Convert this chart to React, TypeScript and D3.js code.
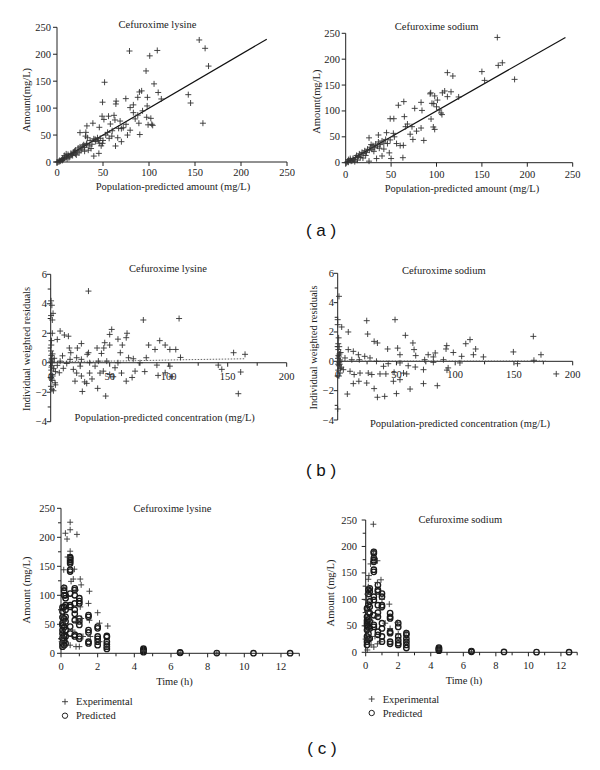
import React from 'react';
import * as d3 from 'd3';

type Pt = [number, number];

// (a) observed vs population-predicted amount (mg/L)
const lysineAmount: Pt[] = [
  [154.6, 226.5], [161, 211], [164.7, 178], [78.8, 206], [109, 207], [100.8, 197], [96.8, 169], [105.5, 145],
  [51.7, 148], [142.7, 125], [145.2, 109.5], [158.6, 72], [92, 132], [89.6, 130], [110, 129], [74.8, 117.6],
  [87.8, 120], [98.3, 120], [113.4, 117], [49.5, 111], [64.3, 113], [64, 107.7], [79.5, 101], [83, 106],
  [98, 104], [49, 85], [56, 85], [62, 86.6], [51, 79], [97.5, 83], [102, 81], [83, 91.6], [89, 72], [99, 69],
  [104, 68], [103, 70], [90, 51], [31.4, 55], [25, 54.5], [39, 72], [32.5, 67], [46, 64.4], [58, 70.5],
  [67, 62.5], [56.7, 44], [63.6, 29.7], [59.6, 48], [70, 37.7], [76.6, 50], [44, 45], [40, 11], [45.5, 16],
  [32.5, 34.6], [41.5, 42], [49.5, 34.6], [63, 78], [68.6, 76], [72, 63.7], [79.5, 59], [87.8, 87],
  [55, 55], [60, 58], [66, 45], [70, 62], [75, 70], [85, 80], [93, 95], [36, 40], [38, 33], [53, 50], [47, 44],
  [0, 0], [1, 0], [2, 1], [3, 3], [3, 1], [4, 2], [5, 4], [6, 6], [6, 3], [7, 5], [8, 7], [8, 12], [10, 9],
  [10, 15], [11, 6], [12, 14], [13, 8], [14, 10], [15, 16], [16, 14], [17, 12], [18, 18], [19, 20], [20, 15],
  [20, 22], [21, 13], [22, 19], [23, 26], [24, 17], [25, 28], [26, 22], [27, 24], [28, 30], [29, 32], [30, 27],
  [30, 20], [32, 33], [34, 22], [33, 45], [31, 48], [35, 30], [37, 25], [40, 43], [42, 38], [45, 40], [46, 35],
  [48, 30], [50, 40],
];
const sodiumAmount: Pt[] = [
  [167, 242], [168, 188], [172.5, 193], [186, 161], [150, 176], [153, 159], [112, 174], [118, 167.5],
  [116, 137], [109, 138.5], [106.5, 135], [112, 127.6], [124.4, 127], [93.6, 135], [93, 133], [98, 129],
  [101, 121], [97, 114], [95, 114.7], [100, 108], [103, 102], [105, 96], [106, 93], [94, 84.4], [96.5, 69],
  [98, 64.4], [83, 116.6], [84, 101], [76, 105], [64, 118], [58, 111], [49, 85], [53, 85], [64.6, 89],
  [68, 74.7], [66, 69.6], [73, 69.6], [83, 67], [74, 45], [86, 43], [78, 61], [71, 55], [63, 9.7], [48, 19],
  [50, 8], [40, 13], [34, 8], [25.7, 3], [36, 53.5], [25.7, 48], [45, 58], [52.5, 56.7], [53.6, 50], [56, 37],
  [46, 37], [60, 33], [63.5, 33.5], [42, 26.4], [49, 44],
  [1, 0], [2, 2], [3, 1], [5, 5], [6, 3], [8, 8], [9, 6], [11, 10], [12, 14], [14, 12], [15, 17], [17, 15],
  [18, 20], [20, 18], [21, 23], [23, 20], [24, 26], [26, 24], [27, 30], [29, 26], [30, 33], [32, 29], [33, 36],
  [35, 32], [36, 40], [38, 35], [40, 42], [42, 38], [44, 45], [10, 2], [5, 8], [13, 5], [19, 9], [22, 14],
  [28, 35], [31, 22], [37, 28], [3, 6], [7, 4], [16, 10],
];
const lysineFit: Pt[] = [[0, 0], [228, 228]];
const sodiumFit: Pt[] = [[0, 0], [242, 242]];

// (b) individual weighted residuals vs population-predicted concentration
const lysineResid: Pt[] = [
  [32, 4.86], [0.3, 4.2], [1, 3.9], [2, 3.35], [0.3, 3.2], [1.4, 2.9], [78.5, 2.9], [108.8, 3.0], [1.4, 2.0],
  [8, 2.15], [11.6, 1.88], [15, 1.8], [5.6, 1.58], [51.7, 2.26], [50, 1.92], [64.7, 2.0], [64, 1.7], [57, 1.6],
  [45.8, 1.36], [60.7, 1.2], [39.3, 1.0], [45, 1.0], [50, 1.2], [83, 1.2], [92.4, 1.5], [97, 1.2], [88.4, 0.9],
  [101, 0.9], [106, 0.9], [110, 0.36], [155, 0.68], [164.7, 0.57], [161, -0.63], [159, -2.1], [142, -0.16],
  [145, -0.45], [46.6, -2.26], [39.8, -1.74], [26.8, -1.95], [30.5, -1.4], [28.8, -1.3], [17, 0.68], [15.8, 1.0],
  [10, 0.47], [10.7, -0.38], [7.3, -0.68], [3.7, -1.36], [2.3, -1.9], [4, -1.5], [1.7, -0.9], [0.8, -1.1],
  [19.2, -0.45], [22, -0.7], [25, -0.23], [33, -0.7], [35, -1.1], [26, -0.9], [20.6, -1.25], [37.6, -0.23],
  [41.8, -0.7], [44.6, -0.57], [50, -0.8], [53, -0.95], [60, -0.7], [64, -1.25], [69, -1.0], [71.5, -0.57],
  [79.7, -0.6], [91, -0.86], [97, -0.68], [102.5, -0.95], [101, -0.23], [90, -0.16], [75.7, 0], [70, 0.27],
  [66, 0.34], [57, 0], [54.5, -0.34], [47.5, 0.11], [40.4, 0.11], [33, 0], [26, 0.23], [22, 0.34], [16.4, 0.23],
  [13.6, -0.05], [8, 0.11], [5.6, -0.18], [22.6, 1.0], [26, 1.3], [32, 0.68], [31, 0.57], [43, 0.63], [59, 0.68],
  [81, 0.34], [0.5, 0.5], [0.5, -0.5], [1, 0.2], [1, -0.2], [0.3, 0.8], [1, -0.8], [0.5, 1.2], [1.2, -1.2],
  [0.2, -1.6], [0.8, 0.3], [0.6, -0.3], [1.5, 0.6], [0.4, -1], [1.3, 0], [0.7, 1.5], [1.1, -1.8], [0.5, 0.1],
  [2.5, -0.4], [3, 0.3], [4, -0.6],
];
const sodiumResid: Pt[] = [
  [1.1, 4.43], [0, 2.84], [0, 2.5], [3.4, 2.34], [9, 2.0], [24.7, 2.77], [48.8, 2.84], [57.6, 1.77], [25.5, 1.86],
  [166.5, 1.7], [112.6, 1.48], [109, 1.2], [92.8, 1.07], [92.2, 0.84], [117.4, 0.84], [98.4, 0.6], [149.5, 0.64],
  [173, 0.45], [167, 0.07], [153, -0.16], [186, -0.86], [124, 0.3], [115.5, 0.45], [105.5, 0.34], [104, -0.11],
  [94, -0.45], [93, -0.6], [84.8, -1.66], [73, -1.52], [73, -0.57], [66.4, 0.39], [65, 0.8], [64, 1.25], [77, 0.45],
  [83, 0.57], [81.4, 0.3], [61.6, -1.89], [50, -2.2], [40, -2.39], [33.8, -2.45], [8.2, -2.23], [0, -3.25],
  [13.3, -1.52], [18, -1.36], [31, -1.86], [24.7, -1.48], [19, -0.8], [26, -0.8], [29, -0.9], [36, -0.86],
  [41, -0.86], [48, -0.75], [53, -1.25], [56, -0.8], [58.7, -0.86], [47.4, -1.36], [14, -0.9], [10.5, -0.68],
  [4.8, -0.57], [39, -0.34], [43, -0.16], [53, -0.11], [60, -0.3], [66, -0.39], [33, 0], [27.5, 0.23], [23, 0.34],
  [17.6, 0.45], [13.3, 0.68], [9, 0.8], [33.8, 1.25], [31, 1.36], [42.5, 0.84], [51, 0.9], [53, 0.45], [18.4, 0.11],
  [12, 0.11], [6.2, 0.23], [81.4, -0.07], [74, 0.11], [90, 0.11], [0.5, 0.8], [1, 0.3], [1, -0.3], [0.5, -0.6],
  [2, 0], [1.5, 0.5], [0.5, 1.2], [2, -0.8], [1, -1], [0.3, 0.2], [1.2, -0.1], [2.5, 0.6], [0.8, 1.6], [3, -0.4],
  [1.8, 0.1], [0.4, -0.2], [1.3, 1.0], [2.2, -0.5], [0.6, 0.4], [1.7, -0.2],
];
const lysineTrend: Pt[] = [[0, 0.08], [60, 0.12], [110, 0.2], [165, 0.27]];
const sodiumTrend: Pt[] = [[0, 0.02], [177, 0.02]];

// (c) amount vs time (h): experimental (+) and predicted (o)
const lysineExp: Pt[] = [
  [0.24, 207], [0.5, 226], [0.5, 213], [0.87, 205], [0.33, 197], [0.5, 176], [0.36, 166], [0.15, 144], [0.73, 145],
  [1.05, 128], [0.67, 128], [0.15, 114], [1.1, 118], [1.55, 107], [1.5, 86], [2.0, 70], [2.55, 47], [0.55, 124],
  [0.82, 55], [1.1, 60], [1.55, 57], [2.1, 52], [0.18, 11.5], [0.5, 14], [0.82, 11.5], [1.0, 11.5], [0.04, 20],
  [0.1, 29], [1.05, 80], [0.82, 109], [0.06, 63], [0.18, 55], [0.63, 40], [1.2, 29], [1.6, 29], [2.1, 20],
  [2.5, 11], [4.5, 5], [4.5, 3], [6.5, 1], [8.5, 0.5],
];
const lysinePred: Pt[] = [
  [0.08, 79], [0.08, 72], [0.08, 52], [0.08, 40], [0.08, 34], [0.08, 26], [0.08, 17], [0.08, 11.5], [0.08, 48], [0.08, 62],
  [0.17, 80], [0.17, 60], [0.17, 45], [0.17, 30], [0.17, 22], [0.17, 14], [0.17, 100], [0.17, 108], [0.17, 113],
  [0.25, 100], [0.25, 95], [0.25, 83], [0.25, 75], [0.25, 63], [0.25, 55], [0.25, 40], [0.25, 29], [0.25, 17],
  [0.5, 166], [0.5, 164], [0.5, 161], [0.5, 158], [0.5, 155], [0.5, 144], [0.5, 141], [0.5, 103], [0.5, 83],
  [0.5, 46], [0.5, 34], [0.5, 80],
  [0.75, 112], [0.75, 109], [0.75, 86], [0.75, 75], [0.75, 57], [0.75, 32], [0.75, 29], [0.75, 100], [0.75, 68],
  [1.0, 95], [1.0, 90], [1.0, 86], [1.0, 60], [1.0, 55], [1.0, 49], [1.0, 29], [1.0, 25],
  [1.5, 66], [1.5, 63], [1.5, 40], [1.5, 36], [1.5, 20], [1.5, 17],
  [2.0, 46], [2.0, 43], [2.0, 29], [2.0, 25], [2.0, 20], [2.0, 14],
  [2.5, 30], [2.5, 28], [2.5, 20], [2.5, 15.5], [2.5, 11.5], [2.5, 7.5],
  [4.5, 8], [4.5, 6], [4.5, 4], [4.5, 2], [6.5, 1.5], [6.5, 0.8], [8.5, 0.5], [10.5, 0.2], [12.5, 0.1],
];
const sodiumExp: Pt[] = [
  [0.47, 242], [0.47, 190], [0.72, 173], [0.3, 167], [0.16, 138], [0.16, 124], [0.94, 137], [0.72, 132],
  [1.45, 91], [1.95, 56], [2.48, 37], [0.05, 99], [0.08, 77], [0.33, 14], [0.72, 16], [0.92, 20], [0.1, 4.4],
  [1.2, 55], [0.68, 68], [0.57, 30], [0.2, 145], [0.1, 110], [0.3, 60], [0.1, 40], [0.15, 25], [1.0, 100],
  [0.9, 80], [1.5, 45], [2.0, 35], [2.5, 20], [0.5, 10], [4.5, 6], [6.5, 2],
];
const sodiumPred: Pt[] = [
  [0.08, 83], [0.08, 67], [0.08, 55], [0.08, 42], [0.08, 30], [0.08, 20], [0.08, 14], [0.08, 60], [0.08, 50],
  [0.17, 90], [0.17, 75], [0.17, 62], [0.17, 48], [0.17, 35], [0.17, 25], [0.17, 110], [0.17, 118],
  [0.25, 121], [0.25, 115], [0.25, 96], [0.25, 86], [0.25, 74], [0.25, 58], [0.25, 45], [0.25, 26],
  [0.5, 190], [0.5, 187], [0.5, 178], [0.5, 174], [0.5, 171], [0.5, 156], [0.5, 152], [0.5, 105], [0.5, 99],
  [0.5, 52], [0.5, 48], [0.5, 70],
  [0.75, 127], [0.75, 118], [0.75, 115], [0.75, 89], [0.75, 67], [0.75, 39], [0.75, 33], [0.75, 75],
  [1.0, 111], [1.0, 105], [1.0, 89], [1.0, 86], [1.0, 45], [1.0, 30], [1.0, 20], [1.0, 55],
  [1.5, 74], [1.5, 67], [1.5, 64], [1.5, 39], [1.5, 36], [1.5, 20], [1.5, 16],
  [2.0, 55], [2.0, 48], [2.0, 30], [2.0, 23], [2.0, 17], [2.0, 14],
  [2.5, 36], [2.5, 33], [2.5, 26], [2.5, 20], [2.5, 14], [2.5, 8],
  [4.5, 9], [4.5, 7], [4.5, 5], [4.5, 3], [6.5, 2], [6.5, 1], [8.5, 0.6], [10.5, 0.3], [12.5, 0.2],
];

const amountTicks = [0, 50, 100, 150, 200, 250];
const residTicks = [-4, -2, 0, 2, 4, 6];
const concTicks = [0, 50, 100, 150, 200];
const timeTicks = [0, 2, 4, 6, 8, 10, 12];

const FONT = '"Liberation Serif", "DejaVu Serif", serif';
const INK = '#222';

const plusPath = 'M-3,0H3M0,-3V3';

type PanelProps = {
  xDomain: [number, number]; yDomain: [number, number];
  xRange: [number, number]; yRange: [number, number];
  xTicks: number[]; yTicks: number[]; xMinor: number; yMinor: number;
  xLabelY: number; yLabelX: number;
  title: string; titlePos: Pt; xLabel: string; xLabelPos: Pt; yLabel: string; yLabelPos: Pt;
  plus?: Pt[]; circles?: Pt[]; line?: Pt[]; dotted?: Pt[];
};

function Panel(p: PanelProps) {
  const x = d3.scaleLinear().domain(p.xDomain).range(p.xRange);
  const y = d3.scaleLinear().domain(p.yDomain).range(p.yRange);
  const y0 = y(0);
  const xm = d3.range(p.xDomain[0], p.xDomain[1] + 1e-9, p.xMinor);
  const ym = d3.range(p.yDomain[0], p.yDomain[1] + 1e-9, p.yMinor);
  const line = d3.line<Pt>().x(d => x(d[0])).y(d => y(d[1]));
  return (
    <g fontFamily={FONT} fill={INK}>
      {/* axes */}
      <line x1={x(p.xDomain[0])} x2={x(p.xDomain[1])} y1={y0} y2={y0} stroke={INK} strokeWidth={1} />
      <line x1={x(0)} x2={x(0)} y1={y(p.yDomain[0])} y2={y(p.yDomain[1])} stroke={INK} strokeWidth={1} />
      {xm.map(v => (
        <line key={'xm' + v} x1={x(v)} x2={x(v)} y1={y0} y2={y0 + (p.xTicks.includes(v) ? 4 : 3)} stroke={INK} />
      ))}
      {ym.map(v => (
        <line key={'ym' + v} x1={x(0) - (p.yTicks.includes(v) ? 4 : 3)} x2={x(0)} y1={y(v)} y2={y(v)} stroke={INK} />
      ))}
      {p.xTicks.map(v => (
        <text key={'xt' + v} x={x(v)} y={p.xLabelY} textAnchor="middle" fontSize={10.5}>{v}</text>
      ))}
      {p.yTicks.map(v => (
        <text key={'yt' + v} x={p.yLabelX} y={y(v) + 3.5} textAnchor="end" fontSize={10.5}>
          {v < 0 ? '\u2212' + Math.abs(v) : v}
        </text>
      ))}
      {/* marks */}
      {p.line && <path d={line(p.line) || ''} fill="none" stroke="#111" strokeWidth={1.2} />}
      {p.dotted && <path d={line(p.dotted) || ''} fill="none" stroke="#555" strokeWidth={0.9} strokeDasharray="1.5,1.5" />}
      {p.circles && p.circles.map((d, i) => (
        <circle key={'c' + i} cx={x(d[0])} cy={y(d[1])} r={2.7} fill="none" stroke="#1a1a1a" strokeWidth={1.35} />
      ))}
      {p.plus && p.plus.map((d, i) => (
        <path key={'p' + i} d={plusPath} transform={`translate(${x(d[0])},${y(d[1])})`} stroke="#333" strokeWidth={0.9} fill="none" />
      ))}
      {/* labels */}
      <text x={p.titlePos[0]} y={p.titlePos[1]} textAnchor="middle" fontSize={10.5}>{p.title}</text>
      <text x={p.xLabelPos[0]} y={p.xLabelPos[1]} textAnchor="middle" fontSize={10.5}>{p.xLabel}</text>
      <text transform={`translate(${p.yLabelPos[0]},${p.yLabelPos[1]}) rotate(-90)`} textAnchor="middle" fontSize={10.5}>{p.yLabel}</text>
    </g>
  );
}

function Legend({ x, y }: { x: number; y: number }) {
  return (
    <g fontFamily={FONT} fill={INK} fontSize={10.5}>
      <path d={plusPath} transform={`translate(${x},${y})`} stroke="#333" strokeWidth={0.9} fill="none" />
      <text x={x + 11} y={y + 3.5}>Experimental</text>
      <circle cx={x} cy={y + 14} r={2.7} fill="none" stroke="#222" strokeWidth={1} />
      <text x={x + 11} y={y + 17.5}>Predicted</text>
    </g>
  );
}

export default function App() {
  return (
    <svg width={600} height={770} style={{ position: 'absolute', left: 0, top: 0, background: '#fff' }}>
      <rect width={600} height={770} fill="#fff" />
      {/* (a) */}
      <Panel xDomain={[0, 250]} yDomain={[0, 250]} xRange={[57, 287]} yRange={[162, 27.3]}
        xTicks={amountTicks} yTicks={amountTicks} xMinor={50} yMinor={50} xLabelY={176} yLabelX={51}
        title="Cefuroxime lysine" titlePos={[157.5, 28.3]}
        xLabel="Population-predicted amount (mg/L)" xLabelPos={[173, 190]}
        yLabel="Amount(mg/L)" yLabelPos={[30, 100]} plus={lysineAmount} line={lysineFit} />
      <Panel xDomain={[0, 250]} yDomain={[0, 250]} xRange={[345.7, 572.7]} yRange={[162.7, 33.3]}
        xTicks={amountTicks} yTicks={amountTicks} xMinor={50} yMinor={50} xLabelY={178} yLabelX={340}
        title="Cefuroxime sodium" titlePos={[436.7, 30]}
        xLabel="Population-predicted amount (mg/L)" xLabelPos={[462, 192]}
        yLabel="Amount(mg/L)" yLabelPos={[320, 101.7]} plus={sodiumAmount} line={sodiumFit} />
      <text x={321} y={236} textAnchor="middle" fontFamily='"Liberation Sans", Arial, sans-serif' fontSize={17} fill="#111">( a )</text>

      {/* (b) */}
      <Panel xDomain={[0, 200]} yDomain={[-4, 6]} xRange={[50.7, 286.7]} yRange={[421.7, 274.3]}
        xTicks={concTicks} yTicks={residTicks} xMinor={25} yMinor={1} xLabelY={380} yLabelX={47}
        title="Cefuroxime lysine" titlePos={[168, 272]}
        xLabel="Population-predicted concentration (mg/L)" xLabelPos={[164.7, 421]}
        yLabel="Individual weighted residuals" yLabelPos={[30, 349]} plus={lysineResid} dotted={lysineTrend} />
      <Panel xDomain={[0, 200]} yDomain={[-4, 6]} xRange={[337.7, 572.7]} yRange={[420, 273.3]}
        xTicks={concTicks} yTicks={residTicks} xMinor={25} yMinor={1} xLabelY={378} yLabelX={334}
        title="Cefuroxime sodium" titlePos={[443.8, 274]}
        xLabel="Population-predicted concentration (mg/L)" xLabelPos={[460, 427]}
        yLabel="Individual weighted residuals" yLabelPos={[317, 347.5]} plus={sodiumResid} dotted={sodiumTrend} />
      <text x={321} y={476} textAnchor="middle" fontFamily='"Liberation Sans", Arial, sans-serif' fontSize={17} fill="#111">( b )</text>

      {/* (c) */}
      <Panel xDomain={[0, 13]} yDomain={[0, 250]} xRange={[61, 299.3]} yRange={[653.3, 508.3]}
        xTicks={timeTicks} yTicks={amountTicks} xMinor={1} yMinor={25} xLabelY={670} yLabelX={55}
        title="Cefuroxime lysine" titlePos={[172.5, 511.7]}
        xLabel="Time (h)" xLabelPos={[174.5, 685]}
        yLabel="Amount (mg/L)" yLabelPos={[30, 590]} plus={lysineExp} circles={lysinePred} />
      <Legend x={65} y={701.7} />
      <Panel xDomain={[0, 13]} yDomain={[0, 250]} xRange={[365.7, 577.2]} yRange={[652.3, 520]}
        xTicks={timeTicks} yTicks={amountTicks} xMinor={1} yMinor={25} xLabelY={669} yLabelX={357}
        title="Cefuroxime sodium" titlePos={[460.3, 523]}
        xLabel="Time (h)" xLabelPos={[464, 684]}
        yLabel="Amount (mg/L)" yLabelPos={[333.5, 593]} plus={sodiumExp} circles={sodiumPred} />
      <Legend x={371.7} y={699} />
      <text x={322} y={754} textAnchor="middle" fontFamily='"Liberation Sans", Arial, sans-serif' fontSize={17} fill="#111">( c )</text>
    </svg>
  );
}
